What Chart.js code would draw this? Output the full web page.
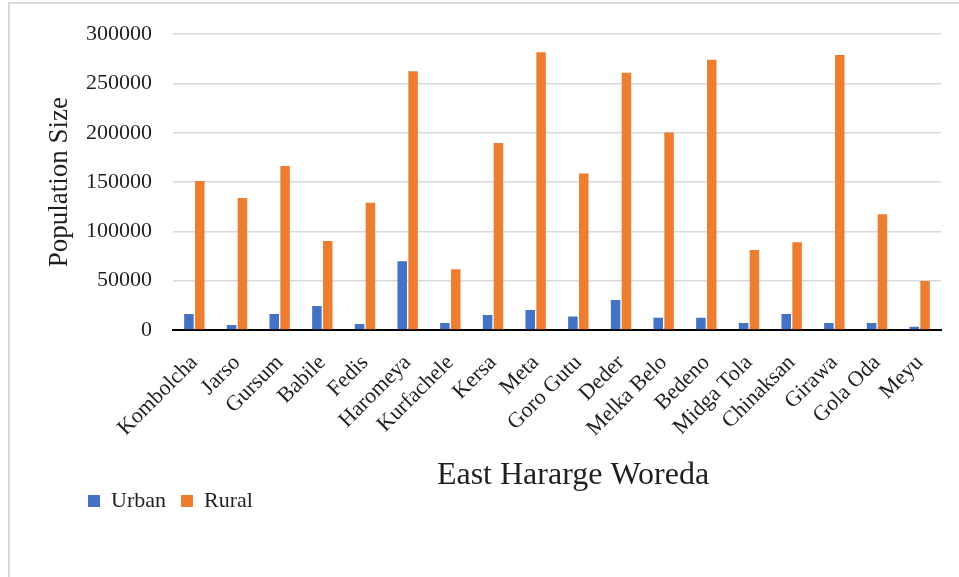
<!DOCTYPE html>
<html>
<head>
<meta charset="utf-8">
<script src="https://cdn.jsdelivr.net/npm/chart.js@4/dist/chart.umd.min.js"></script>
<style>
  html, body { margin: 0; padding: 0; background: #ffffff; overflow: hidden; }
  .frame { position: absolute; left: 8px; top: 2px; width: 1000px; height: 700px;
           border: 2px solid #d9d9d9; box-sizing: border-box; }
  .holder { position: absolute; left: 0; top: 0; width: 959px; height: 577px; }
</style>
</head>
<body>
<div class="frame"></div>
<div class="holder"><canvas id="chart"></canvas></div>
<script>
// Woredas of East Hararge zone
const woredas = ["Kombolcha", "Jarso", "Gursum", "Babile", "Fedis", "Haromeya",
  "Kurfachele", "Kersa", "Meta", "Goro Gutu", "Deder", "Melka Belo", "Bedeno",
  "Midga Tola", "Chinaksan", "Girawa", "Gola Oda", "Meyu"];

// Population by residence
const urbanPop = [16200, 5000, 16300, 24300, 6000, 69800, 7000, 15200, 20200,
  13800, 30300, 12400, 12400, 7100, 16200, 7100, 7100, 3300];
const ruralPop = [151000, 134000, 166400, 90300, 129000, 262500, 61700, 189700,
  281700, 158700, 260800, 200200, 274000, 81200, 89000, 279000, 117300, 49800];

// Value axis ticks
const yTicks = [0, 50000, 100000, 150000, 200000, 250000, 300000];

const SERIF = "'Liberation Serif', 'Times New Roman', serif";
const TEXT = '#1f1f1f';

// Nudges the legend into its place under the axis title
const legendShift = {
  id: 'legendShift',
  afterLayout(chart) {
    const lg = chart.legend;
    if (!lg) return;
    const dx = 33, dy = -20;
    lg.left += dx; lg.right += dx;
    lg.top += dy; lg.bottom += dy;
  }
};

new Chart(document.getElementById('chart'), {
  type: 'bar',
  data: {
    labels: woredas,
    datasets: [
      { label: 'Urban', data: urbanPop, backgroundColor: '#4472C4',
        categoryPercentage: 0.509, barPercentage: 0.876 },
      { label: 'Rural', data: ruralPop, backgroundColor: '#ED7D31',
        categoryPercentage: 0.509, barPercentage: 0.876 }
    ]
  },
  options: {
    responsive: true,
    maintainAspectRatio: false,
    animation: false,
    layout: { padding: { left: 40, right: 18, top: 32, bottom: 35 } },
    plugins: {
      tooltip: { enabled: false },
      legend: {
        position: 'bottom',
        align: 'start',
        labels: {
          boxWidth: 12, boxHeight: 12, padding: 15,
          color: TEXT,
          font: { family: SERIF, size: 22 }
        }
      }
    },
    scales: {
      x: {
        grid: { display: false, drawTicks: false },
        border: { display: true, color: '#000000', width: 2 },
        ticks: {
          color: TEXT, font: { family: SERIF, size: 22 },
          minRotation: 45, maxRotation: 45, padding: 20, autoSkip: false
        },
        title: {
          display: true, text: '    East Hararge Woreda', color: TEXT,
          font: { family: SERIF, size: 32 }, padding: { top: 0, bottom: 0 }
        },
        afterFit(s) { s.height = 165; }
      },
      y: {
        min: 0, max: 300000,
        grid: { color: '#d9d9d9', lineWidth: 1.5, drawTicks: false },
        border: { display: false },
        afterBuildTicks(s) { s.ticks = yTicks.map(v => ({ value: v })); },
        ticks: {
          color: TEXT, font: { family: SERIF, size: 22 }, padding: 21,
          callback: v => String(v)
        },
        title: {
          display: true, text: 'Population Size', color: TEXT,
          font: { family: SERIF, size: 27 }, padding: { top: 4, bottom: 0 }
        },
        afterFit(s) { s.width = 133; }
      }
    }
  },
  plugins: [legendShift]
});
</script>
</body>
</html>
